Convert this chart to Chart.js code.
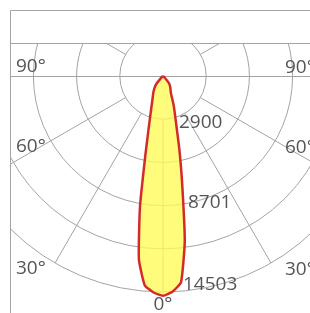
<!DOCTYPE html>
<html>
<head>
<meta charset="utf-8">
<script src="https://cdn.jsdelivr.net/npm/chart.js@4"></script>
<style>
html, body { margin: 0; padding: 0; background: #fff; }
canvas { display: block; }
</style>
</head>
<body>
<canvas id="chart" width="310" height="313"></canvas>
<script>
// angles measured from the downward vertical (0 deg = straight down)
const ANGLES = [0, 2.5, 5, 7.5, 10, 12.5, 15, 20, 25, 30, 35, 40, 50, 60, 90];
// luminous intensity in cd, right half (C0) and left half (C180)
const INTENSITY_RIGHT = [14750, 14500, 13900, 11200, 7450, 5100, 3500, 2100, 1250, 1000, 820, 620, 80, 0, 0];
const INTENSITY_LEFT = [14750, 14550, 14100, 12400, 8900, 5500, 3800, 2300, 1650, 1300, 1000, 700, 90, 0, 0];

// rings of the polar grid and the ones that carry a label
const RING_VALUES = [2900, 5801, 8701, 11602, 14503];
const RING_LABELS = ['2900', '', '8701', '', '14503'];
const ANGLE_LABELS = ['90°', '60°', '30°'];
const ZERO_LABEL = '0°';

const GRID_COLOR = '#a3a3a3';
const TEXT_COLOR = '#555555';
const LINE_COLOR = '#d42a2a';
const FILL_COLOR = 'rgba(255, 250, 90, 0.8)';
const FONT = '19px "Open Sans", "Noto Sans", sans-serif';

// where the lamp sits in the picture and how big one cd is
const CENTER = { x: 163, y: 76 };
const PX_PER_CD = 43.2 / 2900.6;
const AREA = { left: 10, top: 43, right: 310, bottom: 313 };

function toXY(angle, value, side) {
    const t = angle * Math.PI / 180;
    return { x: side * value * Math.sin(t), y: -value * Math.cos(t) };
}

function buildOutline() {
    const pts = [];
    for (let i = ANGLES.length - 1; i >= 0; i--) {
        pts.push(toXY(ANGLES[i], INTENSITY_LEFT[i], -1));
    }
    for (let i = 1; i < ANGLES.length; i++) {
        pts.push(toXY(ANGLES[i], INTENSITY_RIGHT[i], 1));
    }
    return pts;
}

const polarGrid = {
    id: 'polarGrid',
    beforeDatasetsDraw(chart) {
        const { ctx, chartArea: a, scales: { x, y } } = chart;
        const cx = x.getPixelForValue(0);
        const cy = y.getPixelForValue(0);
        const k = (x.getPixelForValue(1000) - cx) / 1000;

        ctx.save();
        ctx.beginPath();
        ctx.rect(a.left, a.top, a.right - a.left, a.bottom - a.top);
        ctx.clip();
        ctx.strokeStyle = GRID_COLOR;
        ctx.lineWidth = 1;

        RING_VALUES.forEach(v => {
            ctx.beginPath();
            ctx.arc(cx, cy, v * k, 0, Math.PI * 2);
            ctx.stroke();
        });

        // spokes every 30 deg, from first ring to last ring
        const rIn = RING_VALUES[0] * k;
        const rOut = RING_VALUES[RING_VALUES.length - 1] * k;
        for (let deg = 0; deg < 360; deg += 30) {
            if (deg % 180 === 90) continue;
            const t = deg * Math.PI / 180;
            ctx.beginPath();
            ctx.moveTo(cx + Math.sin(t) * rIn, cy + Math.cos(t) * rIn);
            ctx.lineTo(cx + Math.sin(t) * rOut, cy + Math.cos(t) * rOut);
            ctx.stroke();
        }
        // the 90 deg line goes all the way across
        ctx.beginPath();
        ctx.moveTo(a.left, Math.round(cy) + 0.5);
        ctx.lineTo(a.right, Math.round(cy) + 0.5);
        ctx.stroke();
        ctx.restore();

        // outer frame
        ctx.save();
        ctx.strokeStyle = GRID_COLOR;
        ctx.lineWidth = 1;
        ctx.beginPath();
        ctx.moveTo(a.left + 0.5, a.bottom);
        ctx.lineTo(a.left + 0.5, 10.5);
        ctx.lineTo(a.right, 10.5);
        ctx.moveTo(a.left, a.top + 0.5);
        ctx.lineTo(a.right, a.top + 0.5);
        ctx.stroke();
        ctx.restore();
    },
    afterDatasetsDraw(chart) {
        const { ctx, scales: { x, y } } = chart;
        const cx = x.getPixelForValue(0);
        const cy = y.getPixelForValue(0);
        ctx.save();
        ctx.fillStyle = TEXT_COLOR;
        ctx.font = FONT;
        ctx.textBaseline = 'middle';
        ctx.textAlign = 'left';

        // angle labels on both sides
        const angleDy = [-9, 71, 193];
        ANGLE_LABELS.forEach((txt, i) => {
            ctx.fillText(txt, 16, cy + angleDy[i]);
            ctx.fillText(txt, 285, cy + angleDy[i] + 1);
        });

        // ring values next to the 0 deg axis
        const ringDx = [16, 0, 25, 0, 20];
        const ringDy = [3, 0, -3, 0, -7];
        RING_LABELS.forEach((txt, i) => {
            if (!txt) return;
            const py = y.getPixelForValue(-RING_VALUES[i]);
            ctx.fillText(txt, cx + ringDx[i], py + ringDy[i]);
        });

        ctx.textAlign = 'center';
        ctx.fillText(ZERO_LABEL, cx, cy + 229);
        ctx.restore();
    }
};

new Chart(document.getElementById('chart'), {
    type: 'scatter',
    data: {
        datasets: [{
            data: buildOutline(),
            showLine: true,
            fill: 'shape',
            backgroundColor: FILL_COLOR,
            borderColor: LINE_COLOR,
            borderWidth: 2.5,
            borderJoinStyle: 'miter',
            tension: 0.15,
            pointRadius: 0
        }]
    },
    options: {
        responsive: false,
        animation: false,
        layout: { padding: { left: AREA.left, top: AREA.top, right: 0, bottom: 0 } },
        plugins: { legend: { display: false }, tooltip: { enabled: false } },
        scales: {
            x: {
                type: 'linear', display: false,
                min: -(CENTER.x - AREA.left) / PX_PER_CD,
                max: (AREA.right - CENTER.x) / PX_PER_CD
            },
            y: {
                type: 'linear', display: false,
                min: -(AREA.bottom - CENTER.y) / PX_PER_CD,
                max: (CENTER.y - AREA.top) / PX_PER_CD
            }
        }
    },
    plugins: [polarGrid]
});
</script>
</body>
</html>
